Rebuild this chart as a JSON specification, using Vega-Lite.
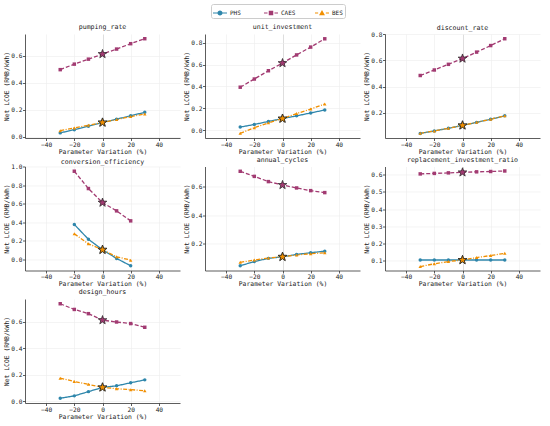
{
  "$schema": "https://vega.github.io/schema/vega-lite/v6.json",
  "padding": {"left": 3, "top": 3, "right": 5, "bottom": 4},
  "data": {
    "values": [
      {"param": "pumping_rate", "x": -30, "PHS": 0.028, "CAES": 0.498, "BES": 0.044},
      {"param": "pumping_rate", "x": -20, "PHS": 0.052, "CAES": 0.539, "BES": 0.065},
      {"param": "pumping_rate", "x": -10, "PHS": 0.078, "CAES": 0.576, "BES": 0.085},
      {"param": "pumping_rate", "x": 0, "PHS": 0.105, "CAES": 0.614, "BES": 0.105},
      {"param": "pumping_rate", "x": 10, "PHS": 0.130, "CAES": 0.651, "BES": 0.127},
      {"param": "pumping_rate", "x": 20, "PHS": 0.155, "CAES": 0.691, "BES": 0.149},
      {"param": "pumping_rate", "x": 30, "PHS": 0.181, "CAES": 0.728, "BES": 0.169},
      {"param": "unit_investment", "x": -30, "PHS": 0.027, "CAES": 0.393, "BES": -0.030},
      {"param": "unit_investment", "x": -20, "PHS": 0.051, "CAES": 0.468, "BES": 0.021},
      {"param": "unit_investment", "x": -10, "PHS": 0.079, "CAES": 0.544, "BES": 0.066},
      {"param": "unit_investment", "x": 0, "PHS": 0.105, "CAES": 0.614, "BES": 0.105},
      {"param": "unit_investment", "x": 10, "PHS": 0.130, "CAES": 0.689, "BES": 0.151},
      {"param": "unit_investment", "x": 20, "PHS": 0.157, "CAES": 0.761, "BES": 0.193},
      {"param": "unit_investment", "x": 30, "PHS": 0.184, "CAES": 0.837, "BES": 0.239},
      {"param": "discount_rate", "x": -30, "PHS": 0.044, "CAES": 0.485, "BES": 0.045},
      {"param": "discount_rate", "x": -20, "PHS": 0.063, "CAES": 0.527, "BES": 0.063},
      {"param": "discount_rate", "x": -10, "PHS": 0.083, "CAES": 0.570, "BES": 0.083},
      {"param": "discount_rate", "x": 0, "PHS": 0.105, "CAES": 0.614, "BES": 0.105},
      {"param": "discount_rate", "x": 10, "PHS": 0.128, "CAES": 0.663, "BES": 0.128},
      {"param": "discount_rate", "x": 20, "PHS": 0.152, "CAES": 0.713, "BES": 0.152},
      {"param": "discount_rate", "x": 30, "PHS": 0.178, "CAES": 0.765, "BES": 0.178},
      {"param": "conversion_efficiency", "x": -20, "PHS": 0.378, "CAES": 0.953, "BES": 0.277},
      {"param": "conversion_efficiency", "x": -10, "PHS": 0.218, "CAES": 0.766, "BES": 0.169},
      {"param": "conversion_efficiency", "x": 0, "PHS": 0.105, "CAES": 0.614, "BES": 0.105},
      {"param": "conversion_efficiency", "x": 10, "PHS": 0.011, "CAES": 0.525, "BES": 0.029},
      {"param": "conversion_efficiency", "x": 20, "PHS": -0.068, "CAES": 0.417, "BES": -0.007},
      {"param": "annual_cycles", "x": -30, "PHS": 0.042, "CAES": 0.711, "BES": 0.066},
      {"param": "annual_cycles", "x": -20, "PHS": 0.071, "CAES": 0.675, "BES": 0.082},
      {"param": "annual_cycles", "x": -10, "PHS": 0.094, "CAES": 0.638, "BES": 0.097},
      {"param": "annual_cycles", "x": 0, "PHS": 0.105, "CAES": 0.614, "BES": 0.105},
      {"param": "annual_cycles", "x": 10, "PHS": 0.122, "CAES": 0.593, "BES": 0.118},
      {"param": "annual_cycles", "x": 20, "PHS": 0.134, "CAES": 0.574, "BES": 0.127},
      {"param": "annual_cycles", "x": 30, "PHS": 0.145, "CAES": 0.560, "BES": 0.134},
      {"param": "replacement_investment_ratio", "x": -30, "PHS": 0.105, "CAES": 0.605, "BES": 0.067},
      {"param": "replacement_investment_ratio", "x": -20, "PHS": 0.105, "CAES": 0.608, "BES": 0.083},
      {"param": "replacement_investment_ratio", "x": -10, "PHS": 0.105, "CAES": 0.611, "BES": 0.096},
      {"param": "replacement_investment_ratio", "x": 0, "PHS": 0.105, "CAES": 0.614, "BES": 0.105},
      {"param": "replacement_investment_ratio", "x": 10, "PHS": 0.105, "CAES": 0.617, "BES": 0.119},
      {"param": "replacement_investment_ratio", "x": 20, "PHS": 0.105, "CAES": 0.619, "BES": 0.131},
      {"param": "replacement_investment_ratio", "x": 30, "PHS": 0.105, "CAES": 0.622, "BES": 0.144},
      {"param": "design_hours", "x": -30, "PHS": 0.023, "CAES": 0.738, "BES": 0.175},
      {"param": "design_hours", "x": -20, "PHS": 0.041, "CAES": 0.695, "BES": 0.150},
      {"param": "design_hours", "x": -10, "PHS": 0.073, "CAES": 0.663, "BES": 0.128},
      {"param": "design_hours", "x": 0, "PHS": 0.105, "CAES": 0.614, "BES": 0.105},
      {"param": "design_hours", "x": 10, "PHS": 0.117, "CAES": 0.600, "BES": 0.095},
      {"param": "design_hours", "x": 20, "PHS": 0.140, "CAES": 0.588, "BES": 0.088},
      {"param": "design_hours", "x": 30, "PHS": 0.162, "CAES": 0.560, "BES": 0.080}
    ]
  },
  "transform": [{"fold": ["PHS", "CAES", "BES"], "as": ["tech", "lcoe"]}],
  "columns": 3,
  "spacing": {"row": 1.5, "column": 3},
  "concat": [
    {
      "title": "pumping_rate",
      "width": 155, "height": 104,
      "transform": [{"filter": "datum.param === 'pumping_rate'"}],
      "encoding": {
        "x": {"field": "x", "type": "quantitative", "scale": {"domain": [-55, 55], "nice": false}, "axis": {"values": [-40, -20, 0, 20, 40], "title": "Parameter Variation (%)", "gridColor": {"condition": {"test": "datum.value === 0", "value": "#c8c8c8"}, "value": "#ececec"}}},
        "y": {"field": "lcoe", "type": "quantitative", "scale": {"domain": [-0.01, 0.763], "nice": false, "zero": false}, "axis": {"values": [0, 0.2, 0.4, 0.6], "format": ".1f", "title": "Net LCOE (RMB/kWh)"}}
      },
      "layer": [
        {"mark": {"type": "line", "strokeWidth": 1.3}, "encoding": {"stroke": {"field": "tech", "type": "nominal", "scale": {"range": ["#F18F01", "#A23B72", "#2E86AB"]}, "legend": null}, "strokeDash": {"field": "tech", "type": "nominal", "scale": {"range": [[4, 1.5, 1, 1.5], [4, 2], [1, 0]]}, "legend": null}}},
        {"mark": {"type": "point", "filled": true, "size": 12, "opacity": 1}, "encoding": {"fill": {"field": "tech", "type": "nominal", "scale": {"range": ["#F18F01", "#A23B72", "#2E86AB"]}, "legend": null}, "shape": {"condition": [{"test": "datum.tech === 'PHS'", "value": "circle"}, {"test": "datum.tech === 'CAES'", "value": "square"}], "value": "triangle-up"}}},
        {"transform": [{"filter": "datum.x === 0"}], "mark": {"type": "point", "shape": "M0,-1L0.235,-0.324L0.951,-0.309L0.38,0.124L0.588,0.809L0,0.4L-0.588,0.809L-0.38,0.124L-0.951,-0.309L-0.235,-0.324Z", "filled": true, "size": 85, "stroke": "#222222", "strokeWidth": 0.7, "opacity": 1}, "encoding": {"fill": {"field": "tech", "type": "nominal", "scale": {"range": ["#F18F01", "#A23B72", "#2E86AB"]}, "legend": null}}},
        {"mark": {"type": "point", "filled": true, "opacity": 0}, "encoding": {
          "color": {"field": "tech", "type": "nominal", "scale": {"domain": ["PHS", "CAES", "BES"], "range": ["#2E86AB", "#A23B72", "#F18F01"]}, "legend": {"title": null, "orient": "none", "legendX": 186, "legendY": -30, "direction": "horizontal", "symbolOpacity": 1}},
          "shape": {"field": "tech", "type": "nominal", "scale": {"domain": ["PHS", "CAES", "BES"], "range": [
            "M-1,-0.07H1V0.07H-1Z M0.36,0A0.36,0.36,0,1,1,-0.36,0A0.36,0.36,0,1,1,0.36,0Z",
            "M-1,-0.07H-0.5V0.07H-1Z M0.5,-0.07H1V0.07H0.5Z M-0.32,-0.32H0.32V0.32H-0.32Z",
            "M-1,-0.07H-0.55V0.07H-1Z M0.55,-0.07H1V0.07H0.55Z M0,-0.42L0.42,0.32H-0.42Z"
          ]}, "legend": {"title": null, "orient": "none", "legendX": 186, "legendY": -30, "direction": "horizontal", "symbolOpacity": 1}}
        }}
      ]
    },
    {
      "title": "unit_investment",
      "width": 155, "height": 104,
      "transform": [{"filter": "datum.param === 'unit_investment'"}],
      "encoding": {
        "x": {"field": "x", "type": "quantitative", "scale": {"domain": [-55, 55], "nice": false}, "axis": {"values": [-40, -20, 0, 20, 40], "title": "Parameter Variation (%)", "gridColor": {"condition": {"test": "datum.value === 0", "value": "#c8c8c8"}, "value": "#ececec"}}},
        "y": {"field": "lcoe", "type": "quantitative", "scale": {"domain": [-0.073, 0.881], "nice": false, "zero": false}, "axis": {"values": [0, 0.2, 0.4, 0.6, 0.8], "format": ".1f", "title": "Net LCOE (RMB/kWh)"}}
      },
      "layer": [
        {"mark": {"type": "line", "strokeWidth": 1.3}, "encoding": {"stroke": {"field": "tech", "type": "nominal", "scale": {"range": ["#F18F01", "#A23B72", "#2E86AB"]}, "legend": null}, "strokeDash": {"field": "tech", "type": "nominal", "scale": {"range": [[4, 1.5, 1, 1.5], [4, 2], [1, 0]]}, "legend": null}}},
        {"mark": {"type": "point", "filled": true, "size": 12, "opacity": 1}, "encoding": {"fill": {"field": "tech", "type": "nominal", "scale": {"range": ["#F18F01", "#A23B72", "#2E86AB"]}, "legend": null}, "shape": {"condition": [{"test": "datum.tech === 'PHS'", "value": "circle"}, {"test": "datum.tech === 'CAES'", "value": "square"}], "value": "triangle-up"}}},
        {"transform": [{"filter": "datum.x === 0"}], "mark": {"type": "point", "shape": "M0,-1L0.235,-0.324L0.951,-0.309L0.38,0.124L0.588,0.809L0,0.4L-0.588,0.809L-0.38,0.124L-0.951,-0.309L-0.235,-0.324Z", "filled": true, "size": 85, "stroke": "#222222", "strokeWidth": 0.7, "opacity": 1}, "encoding": {"fill": {"field": "tech", "type": "nominal", "scale": {"range": ["#F18F01", "#A23B72", "#2E86AB"]}, "legend": null}}}
      ]
    },
    {
      "title": {"text": "discount_rate", "offset": 0},
      "width": 155, "height": 104,
      "transform": [{"filter": "datum.param === 'discount_rate'"}],
      "encoding": {
        "x": {"field": "x", "type": "quantitative", "scale": {"domain": [-55, 55], "nice": false}, "axis": {"values": [-40, -20, 0, 20, 40], "title": "Parameter Variation (%)", "gridColor": {"condition": {"test": "datum.value === 0", "value": "#c8c8c8"}, "value": "#ececec"}}},
        "y": {"field": "lcoe", "type": "quantitative", "scale": {"domain": [0.009, 0.801], "nice": false, "zero": false}, "axis": {"values": [0.2, 0.4, 0.6, 0.8], "format": ".1f", "title": "Net LCOE (RMB/kWh)"}}
      },
      "layer": [
        {"mark": {"type": "line", "strokeWidth": 1.3}, "encoding": {"stroke": {"field": "tech", "type": "nominal", "scale": {"range": ["#F18F01", "#A23B72", "#2E86AB"]}, "legend": null}, "strokeDash": {"field": "tech", "type": "nominal", "scale": {"range": [[4, 1.5, 1, 1.5], [4, 2], [1, 0]]}, "legend": null}}},
        {"mark": {"type": "point", "filled": true, "size": 12, "opacity": 1}, "encoding": {"fill": {"field": "tech", "type": "nominal", "scale": {"range": ["#F18F01", "#A23B72", "#2E86AB"]}, "legend": null}, "shape": {"condition": [{"test": "datum.tech === 'PHS'", "value": "circle"}, {"test": "datum.tech === 'CAES'", "value": "square"}], "value": "triangle-up"}}},
        {"transform": [{"filter": "datum.x === 0"}], "mark": {"type": "point", "shape": "M0,-1L0.235,-0.324L0.951,-0.309L0.38,0.124L0.588,0.809L0,0.4L-0.588,0.809L-0.38,0.124L-0.951,-0.309L-0.235,-0.324Z", "filled": true, "size": 85, "stroke": "#222222", "strokeWidth": 0.7, "opacity": 1}, "encoding": {"fill": {"field": "tech", "type": "nominal", "scale": {"range": ["#F18F01", "#A23B72", "#2E86AB"]}, "legend": null}}}
      ]
    },
    {
      "title": {"text": "conversion_efficiency", "offset": -2},
      "width": 155, "height": 104,
      "transform": [{"filter": "datum.param === 'conversion_efficiency'"}],
      "encoding": {
        "x": {"field": "x", "type": "quantitative", "scale": {"domain": [-55, 55], "nice": false}, "axis": {"values": [-40, -20, 0, 20, 40], "title": "Parameter Variation (%)", "gridColor": {"condition": {"test": "datum.value === 0", "value": "#c8c8c8"}, "value": "#ececec"}}},
        "y": {"field": "lcoe", "type": "quantitative", "scale": {"domain": [-0.119, 1.004], "nice": false, "zero": false}, "axis": {"values": [0, 0.2, 0.4, 0.6, 0.8, 1.0], "format": ".1f", "title": "Net LCOE (RMB/kWh)"}}
      },
      "layer": [
        {"mark": {"type": "line", "strokeWidth": 1.3}, "encoding": {"stroke": {"field": "tech", "type": "nominal", "scale": {"range": ["#F18F01", "#A23B72", "#2E86AB"]}, "legend": null}, "strokeDash": {"field": "tech", "type": "nominal", "scale": {"range": [[4, 1.5, 1, 1.5], [4, 2], [1, 0]]}, "legend": null}}},
        {"mark": {"type": "point", "filled": true, "size": 12, "opacity": 1}, "encoding": {"fill": {"field": "tech", "type": "nominal", "scale": {"range": ["#F18F01", "#A23B72", "#2E86AB"]}, "legend": null}, "shape": {"condition": [{"test": "datum.tech === 'PHS'", "value": "circle"}, {"test": "datum.tech === 'CAES'", "value": "square"}], "value": "triangle-up"}}},
        {"transform": [{"filter": "datum.x === 0"}], "mark": {"type": "point", "shape": "M0,-1L0.235,-0.324L0.951,-0.309L0.38,0.124L0.588,0.809L0,0.4L-0.588,0.809L-0.38,0.124L-0.951,-0.309L-0.235,-0.324Z", "filled": true, "size": 85, "stroke": "#222222", "strokeWidth": 0.7, "opacity": 1}, "encoding": {"fill": {"field": "tech", "type": "nominal", "scale": {"range": ["#F18F01", "#A23B72", "#2E86AB"]}, "legend": null}}}
      ]
    },
    {
      "title": "annual_cycles",
      "width": 155, "height": 104,
      "transform": [{"filter": "datum.param === 'annual_cycles'"}],
      "encoding": {
        "x": {"field": "x", "type": "quantitative", "scale": {"domain": [-55, 55], "nice": false}, "axis": {"values": [-40, -20, 0, 20, 40], "title": "Parameter Variation (%)", "gridColor": {"condition": {"test": "datum.value === 0", "value": "#c8c8c8"}, "value": "#ececec"}}},
        "y": {"field": "lcoe", "type": "quantitative", "scale": {"domain": [0.008, 0.745], "nice": false, "zero": false}, "axis": {"values": [0.2, 0.4, 0.6], "format": ".1f", "title": "Net LCOE (RMB/kWh)"}}
      },
      "layer": [
        {"mark": {"type": "line", "strokeWidth": 1.3}, "encoding": {"stroke": {"field": "tech", "type": "nominal", "scale": {"range": ["#F18F01", "#A23B72", "#2E86AB"]}, "legend": null}, "strokeDash": {"field": "tech", "type": "nominal", "scale": {"range": [[4, 1.5, 1, 1.5], [4, 2], [1, 0]]}, "legend": null}}},
        {"mark": {"type": "point", "filled": true, "size": 12, "opacity": 1}, "encoding": {"fill": {"field": "tech", "type": "nominal", "scale": {"range": ["#F18F01", "#A23B72", "#2E86AB"]}, "legend": null}, "shape": {"condition": [{"test": "datum.tech === 'PHS'", "value": "circle"}, {"test": "datum.tech === 'CAES'", "value": "square"}], "value": "triangle-up"}}},
        {"transform": [{"filter": "datum.x === 0"}], "mark": {"type": "point", "shape": "M0,-1L0.235,-0.324L0.951,-0.309L0.38,0.124L0.588,0.809L0,0.4L-0.588,0.809L-0.38,0.124L-0.951,-0.309L-0.235,-0.324Z", "filled": true, "size": 85, "stroke": "#222222", "strokeWidth": 0.7, "opacity": 1}, "encoding": {"fill": {"field": "tech", "type": "nominal", "scale": {"range": ["#F18F01", "#A23B72", "#2E86AB"]}, "legend": null}}}
      ]
    },
    {
      "title": "replacement_investment_ratio",
      "width": 155, "height": 104,
      "transform": [{"filter": "datum.param === 'replacement_investment_ratio'"}],
      "encoding": {
        "x": {"field": "x", "type": "quantitative", "scale": {"domain": [-55, 55], "nice": false}, "axis": {"values": [-40, -20, 0, 20, 40], "title": "Parameter Variation (%)", "gridColor": {"condition": {"test": "datum.value === 0", "value": "#c8c8c8"}, "value": "#ececec"}}},
        "y": {"field": "lcoe", "type": "quantitative", "scale": {"domain": [0.044, 0.648], "nice": false, "zero": false}, "axis": {"values": [0.1, 0.2, 0.3, 0.4, 0.5, 0.6], "format": ".1f", "title": "Net LCOE (RMB/kWh)"}}
      },
      "layer": [
        {"mark": {"type": "line", "strokeWidth": 1.3}, "encoding": {"stroke": {"field": "tech", "type": "nominal", "scale": {"range": ["#F18F01", "#A23B72", "#2E86AB"]}, "legend": null}, "strokeDash": {"field": "tech", "type": "nominal", "scale": {"range": [[4, 1.5, 1, 1.5], [4, 2], [1, 0]]}, "legend": null}}},
        {"mark": {"type": "point", "filled": true, "size": 12, "opacity": 1}, "encoding": {"fill": {"field": "tech", "type": "nominal", "scale": {"range": ["#F18F01", "#A23B72", "#2E86AB"]}, "legend": null}, "shape": {"condition": [{"test": "datum.tech === 'PHS'", "value": "circle"}, {"test": "datum.tech === 'CAES'", "value": "square"}], "value": "triangle-up"}}},
        {"transform": [{"filter": "datum.x === 0"}], "mark": {"type": "point", "shape": "M0,-1L0.235,-0.324L0.951,-0.309L0.38,0.124L0.588,0.809L0,0.4L-0.588,0.809L-0.38,0.124L-0.951,-0.309L-0.235,-0.324Z", "filled": true, "size": 85, "stroke": "#222222", "strokeWidth": 0.7, "opacity": 1}, "encoding": {"fill": {"field": "tech", "type": "nominal", "scale": {"range": ["#F18F01", "#A23B72", "#2E86AB"]}, "legend": null}}}
      ]
    },
    {
      "title": "design_hours",
      "width": 155, "height": 104,
      "transform": [{"filter": "datum.param === 'design_hours'"}],
      "encoding": {
        "x": {"field": "x", "type": "quantitative", "scale": {"domain": [-55, 55], "nice": false}, "axis": {"values": [-40, -20, 0, 20, 40], "title": "Parameter Variation (%)", "gridColor": {"condition": {"test": "datum.value === 0", "value": "#c8c8c8"}, "value": "#ececec"}}},
        "y": {"field": "lcoe", "type": "quantitative", "scale": {"domain": [-0.013, 0.774], "nice": false, "zero": false}, "axis": {"values": [0, 0.2, 0.4, 0.6], "format": ".1f", "title": "Net LCOE (RMB/kWh)"}}
      },
      "layer": [
        {"mark": {"type": "line", "strokeWidth": 1.3}, "encoding": {"stroke": {"field": "tech", "type": "nominal", "scale": {"range": ["#F18F01", "#A23B72", "#2E86AB"]}, "legend": null}, "strokeDash": {"field": "tech", "type": "nominal", "scale": {"range": [[4, 1.5, 1, 1.5], [4, 2], [1, 0]]}, "legend": null}}},
        {"mark": {"type": "point", "filled": true, "size": 12, "opacity": 1}, "encoding": {"fill": {"field": "tech", "type": "nominal", "scale": {"range": ["#F18F01", "#A23B72", "#2E86AB"]}, "legend": null}, "shape": {"condition": [{"test": "datum.tech === 'PHS'", "value": "circle"}, {"test": "datum.tech === 'CAES'", "value": "square"}], "value": "triangle-up"}}},
        {"transform": [{"filter": "datum.x === 0"}], "mark": {"type": "point", "shape": "M0,-1L0.235,-0.324L0.951,-0.309L0.38,0.124L0.588,0.809L0,0.4L-0.588,0.809L-0.38,0.124L-0.951,-0.309L-0.235,-0.324Z", "filled": true, "size": 85, "stroke": "#222222", "strokeWidth": 0.7, "opacity": 1}, "encoding": {"fill": {"field": "tech", "type": "nominal", "scale": {"range": ["#F18F01", "#A23B72", "#2E86AB"]}, "legend": null}}}
      ]
    }
  ],
  "config": {
    "font": "DejaVu Sans Mono",
    "view": {"stroke": null},
    "axis": {
      "domainColor": "#333333", "domainWidth": 0.8,
      "tickColor": "#333333", "tickWidth": 0.8, "tickSize": 2.5,
      "labelFontSize": 6.2, "labelColor": "#222222", "labelPadding": 0.5,
      "titleFontSize": 6.4, "titleFontWeight": "normal", "titleColor": "#222222", "titlePadding": 1,
      "gridColor": "#ececec", "gridWidth": 0.6
    },
    "title": {"fontSize": 6.6, "fontWeight": "normal", "color": "#222222", "offset": 3, "frame": "group"},
    "legend": {
      "gridAlign": "all", "columnPadding": 19, "symbolSize": 196, "symbolStrokeWidth": 0,
      "labelFontSize": 6, "labelColor": "#222222", "labelOffset": 3,
      "strokeColor": "#cccccc", "padding": 2, "cornerRadius": 2, "fillColor": "white"
    }
  }
}
